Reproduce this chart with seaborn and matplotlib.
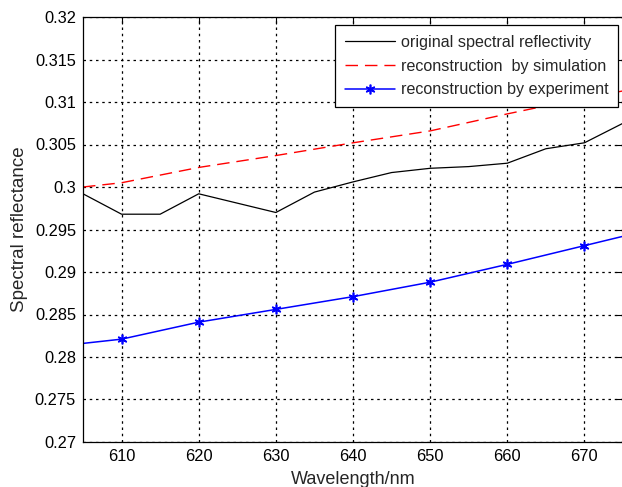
import matplotlib
matplotlib.use("Agg")
import matplotlib.pyplot as plt
import seaborn as sns
import pandas as pd

# Data
wl_orig = [605, 610, 615, 620, 630, 635, 640, 645, 650, 655, 660, 665, 670, 675]
orig = [0.2992, 0.2968, 0.2968, 0.2992, 0.2970, 0.2994, 0.3006, 0.3017, 0.3022,
        0.3024, 0.3028, 0.3045, 0.3052, 0.3075]

wl_sim = [605, 610, 620, 630, 640, 650, 660, 670, 675]
sim = [0.3000, 0.3005, 0.3023, 0.3037, 0.3052, 0.3066, 0.3086, 0.3105, 0.3113]

wl_exp = [605, 610, 620, 630, 640, 650, 660, 670, 675]
exp_ = [0.2816, 0.2821, 0.2841, 0.2856, 0.2871, 0.2888, 0.2909, 0.2931, 0.2942]

xticks = [610, 620, 630, 640, 650, 660, 670]
yticks = [0.27, 0.275, 0.28, 0.285, 0.29, 0.295, 0.3, 0.305, 0.31, 0.315, 0.32]
ytick_labels = ["0.27", "0.275", "0.28", "0.285", "0.29", "0.295", "0.3",
                "0.305", "0.31", "0.315", "0.32"]

labels = ["original spectral reflectivity", "reconstruction  by simulation",
          "reconstruction by experiment"]

sns.set_style("white")
plt.rcParams['font.family'] = ['Liberation Sans', 'DejaVu Sans']

fig = plt.figure(figsize=(6.22, 4.87), dpi=100)
W, H = 622, 487
ax = fig.add_axes([83 / W, 45 / H, 540 / W, 425 / H])

df_o = pd.DataFrame({"x": wl_orig, "y": orig})
df_s = pd.DataFrame({"x": wl_sim, "y": sim})
df_e = pd.DataFrame({"x": wl_exp, "y": exp_})

sns.lineplot(data=df_o, x="x", y="y", ax=ax, color="black", lw=0.9,
             label=labels[0])
sns.lineplot(data=df_s, x="x", y="y", ax=ax, color="red", lw=1.0,
             label=labels[1], dashes=False)
ax.lines[-1].set_dashes([9, 5])
sns.lineplot(data=df_e, x="x", y="y", ax=ax, color="blue", lw=1.1,
             label=labels[2], marker=(6, 2, 0), markersize=7, mew=1.2,
             markevery=list(range(1, 8)), markeredgecolor="blue")

ax.set_xlim(605, 675)
ax.set_ylim(0.27, 0.32)
ax.set_xticks(xticks)
ax.set_xticklabels([str(t) for t in xticks])
ax.set_yticks(yticks)
ax.set_yticklabels(ytick_labels)
ax.tick_params(direction="in", length=5, width=0.8, top=True, right=True,
               labelsize=11.8, colors="black", pad=5)
ax.grid(True, color="black", linestyle=(0, (2, 3)), linewidth=0.9)
for s in ax.spines.values():
    s.set_color("black")
    s.set_linewidth(0.9)

ax.set_xlabel("Wavelength/nm", fontsize=13, labelpad=5)
ax.set_ylabel("Spectral reflectance", fontsize=13.5, labelpad=5)

leg = ax.legend(loc="upper left", bbox_to_anchor=(252 / 540, 1 - 8 / 425),
                fontsize=11.6, frameon=True, fancybox=False, edgecolor="black",
                framealpha=1, handlelength=3.1, borderpad=0.6,
                labelspacing=0.55, handletextpad=0.4, borderaxespad=0)
leg.get_frame().set_linewidth(0.9)

fig.savefig("out.png", dpi=100)
